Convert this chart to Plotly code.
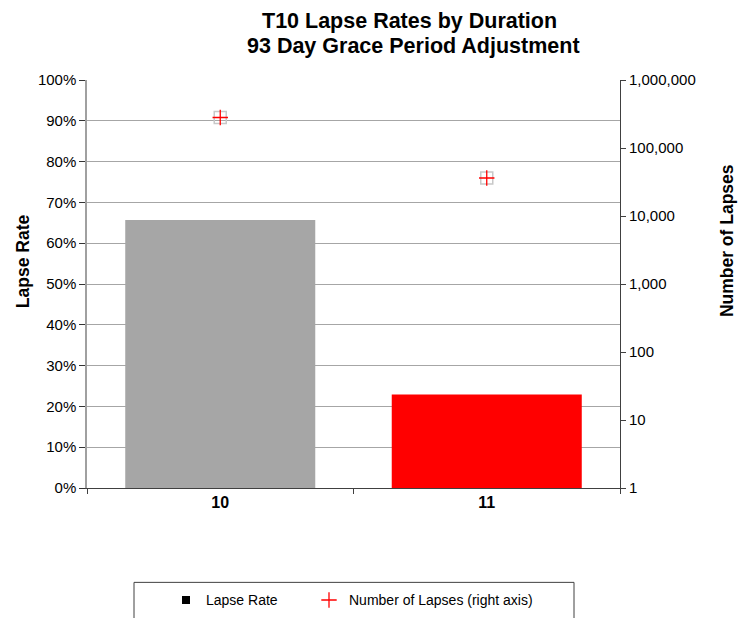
import plotly.graph_objects as go

categories = ["10", "11"]
lapse_rate = [0.657, 0.229]
bar_colors = ["#a6a6a6", "#ff0000"]
num_lapses = [281000, 36200]
right_ticks = [1, 10, 100, 1000, 10000, 100000, 1000000]
right_tick_text = ["1", "10", "100", "1,000", "10,000", "100,000", "1,000,000"]
left_ticks = [i / 10 for i in range(11)]
left_tick_text = [f"{i*10}%" for i in range(11)]
title_lines = ["T10 Lapse Rates by Duration", "93 Day Grace Period Adjustment"]

FONT = "Liberation Sans, Arial, sans-serif"
W, H = 748, 618
OFF = 8  # page body margin offset
# plot area in reference pixel coordinates
PL, PR, PT, PB = 87, 620, 80, 487.7
PW, PH = PR - PL, PB - PT
L, T = PL - OFF, PT - OFF
R = W - (PR - OFF)
B = H - (PB - OFF)


def px(x):
    return (x - PL) / PW


def py(y):
    return (PB - y) / PH


fig = go.Figure()
fig.add_trace(go.Bar(
    x=categories, y=lapse_rate, marker=dict(color=bar_colors, line=dict(width=0)),
    showlegend=False, yaxis="y", name="Lapse Rate",
))
# legend proxy for Lapse Rate
fig.add_trace(go.Scatter(
    x=[None], y=[None], mode="markers", name="Lapse Rate", legend="legend",
    marker=dict(symbol="square", size=8, color="black"), yaxis="y",
))
# gray square outline behind cross
fig.add_trace(go.Scatter(
    x=categories, y=num_lapses, mode="markers", yaxis="y2", showlegend=False,
    marker=dict(symbol="square-open", size=12, color="#c8c8c8", line=dict(width=1.5, color="#c8c8c8")),
    hoverinfo="skip",
))
fig.add_trace(go.Scatter(
    x=categories, y=num_lapses, mode="markers", yaxis="y2", legend="legend2",
    name="Number of Lapses (right axis)",
    marker=dict(symbol="cross-thin-open", size=11, color="#ff0000", line=dict(width=1.3, color="#ff0000")),
))

annotations = [
    dict(text=f"<b>{title_lines[0]}</b>", x=px(409), y=py(21), xref="paper", yref="paper",
         xanchor="center", yanchor="middle", showarrow=False,
         font=dict(family=FONT, size=21.5, color="black")),
    dict(text=f"<b>{title_lines[1]}</b>", x=px(413), y=py(46), xref="paper", yref="paper",
         xanchor="center", yanchor="middle", showarrow=False,
         font=dict(family=FONT, size=21.5, color="black")),
    dict(text="<b>Lapse Rate</b>", x=px(23), y=py(261), xref="paper", yref="paper",
         xanchor="center", yanchor="middle", showarrow=False, textangle=-90,
         font=dict(family=FONT, size=17.5, color="black")),
    dict(text="<b>Number of Lapses</b>", x=px(727), y=py(241), xref="paper", yref="paper",
         xanchor="center", yanchor="middle", showarrow=False, textangle=-90,
         font=dict(family=FONT, size=17.5, color="black")),
]

legend_common = dict(
    orientation="h", yanchor="middle", y=py(600),
    font=dict(family=FONT, size=14, color="black"),
    bgcolor="rgba(0,0,0,0)", borderwidth=0, itemwidth=30,
)

fig.update_layout(
    width=W, height=H,
    margin=dict(l=L, r=R, t=T, b=B, autoexpand=False),
    paper_bgcolor="white", plot_bgcolor="white",
    font=dict(family=FONT, size=15, color="black"),
    bargap=0.287,
    xaxis=dict(
        type="category", showgrid=False, showline=True, linecolor="#404040", linewidth=1,
        ticks="outside", tickson="boundaries", ticklen=5, tickcolor="#404040",
        tickfont=dict(family=FONT, size=16, color="black"),
        tickprefix="<b>", ticksuffix="</b>", automargin=False,
    ),
    yaxis=dict(
        range=[0, 1], tickvals=left_ticks, ticktext=left_tick_text,
        showgrid=True, gridcolor="#a6a6a6", gridwidth=1,
        showline=True, linecolor="#a0a0a0", linewidth=1.5,
        ticks="outside", ticklen=6, tickcolor="#333333",
        tickfont=dict(family=FONT, size=15, color="black"),
        zeroline=False, automargin=False,
    ),
    yaxis2=dict(
        type="log", range=[0, 6], overlaying="y", side="right",
        tickvals=right_ticks, ticktext=right_tick_text, showgrid=False,
        showline=True, linecolor="#404040", linewidth=1,
        ticks="outside", ticklen=5, tickcolor="#404040",
        tickfont=dict(family=FONT, size=15, color="black"),
        automargin=False,
    ),
    legend=dict(x=px(166), xanchor="left", **legend_common),
    legend2=dict(x=px(309), xanchor="left", **legend_common),
    annotations=annotations,
    shapes=[dict(
        type="rect", xref="paper", yref="paper",
        x0=px(134), x1=px(574), y0=py(640), y1=py(582),
        line=dict(color="#404040", width=1), fillcolor="rgba(0,0,0,0)", layer="below",
    )],
)

fig.write_html("out.html")
